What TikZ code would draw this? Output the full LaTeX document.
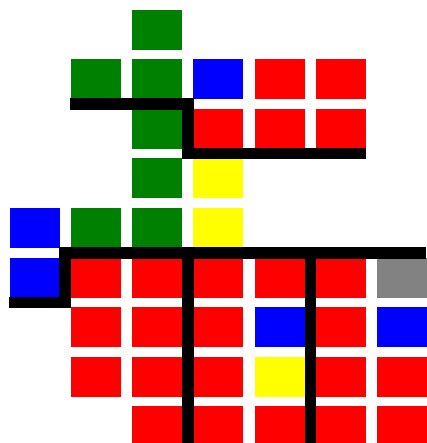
\documentclass[tikz,border=0pt]{standalone}
\usepackage{tikz}
\definecolor{cgreen}{HTML}{008000}
\definecolor{cblue}{HTML}{0000FF}
\definecolor{cred}{HTML}{FF0000}
\definecolor{cyellow}{HTML}{FFFF00}
\definecolor{cgray}{HTML}{828282}

\begin{document}
\begin{tikzpicture}[x=1pt, y=-1pt]
    \tikzstyle{cell} = [rectangle, anchor=north west, inner sep=0pt, outer sep=0pt, minimum width=50pt, minimum height=40pt]
    \tikzstyle{wall} = [draw=black, line width=11.5pt, line cap=butt, line join=miter]

    \useasboundingbox (0,0) rectangle (426,443);

    % cells: column / row / colour
    \foreach \c/\r/\col in {
        2/0/cgreen,
        1/1/cgreen, 2/1/cgreen, 3/1/cblue, 4/1/cred, 5/1/cred,
        2/2/cgreen, 3/2/cred, 4/2/cred, 5/2/cred,
        2/3/cgreen, 3/3/cyellow,
        0/4/cblue, 1/4/cgreen, 2/4/cgreen, 3/4/cyellow,
        0/5/cblue, 1/5/cred, 2/5/cred, 3/5/cred, 4/5/cred, 5/5/cred, 6/5/cgray,
        1/6/cred, 2/6/cred, 3/6/cred, 4/6/cblue, 5/6/cred, 6/6/cblue,
        1/7/cred, 2/7/cred, 3/7/cred, 4/7/cyellow, 5/7/cred, 6/7/cred,
        2/8/cred, 3/8/cred, 4/8/cred, 5/8/cred, 6/8/cred}
    {
        \node [cell, fill=\col] (cell-\r-\c) at ({9.5+61.25*\c}, {10+49.5*\r}) {};
    }

    % walls
    \draw [wall] (70,104.25) -- (187.9,104.25) -- (187.9,153.75) -- (366,153.75);
    \draw [wall] (9,302.25) -- (65,302.25) -- (65,252.75) -- (426,252.75);
    \draw [wall] (187.9,252.75) -- (187.9,443);
    \draw [wall] (310.4,252.75) -- (310.4,443);
\end{tikzpicture}
\end{document}
